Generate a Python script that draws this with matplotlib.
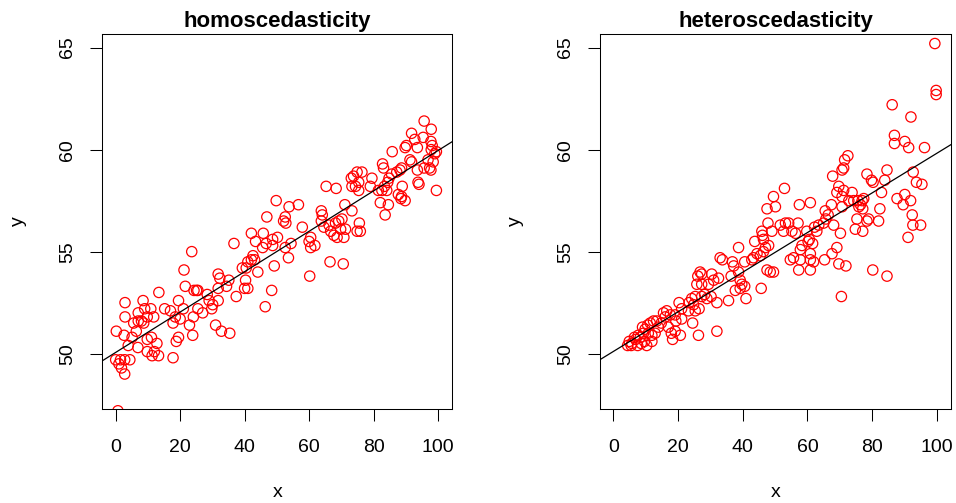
import numpy as np
import matplotlib
matplotlib.use("Agg")
import matplotlib.pyplot as plt

plt.rcParams['font.family'] = ['Liberation Sans', 'DejaVu Sans']

# homoscedastic sample
homo_x = [13.4, 2.9, 8.5, 2.9, 7.0, 9.0, 10.9, 15.2, 17.0, 11.8, 9.8, 17.8, 5.6, 8.0, 7.0,
          8.7, 0.2, 2.6, 6.4, 5.1, 11.1, 9.8, 12.8, 3.9, 6.9, 9.8, 11.3, 13.3, 12.0, 17.8,
          0.0, 1.5, 2.8, 4.4, 1.0, 1.8, 2.8, 0.7, 18.8, 19.5, 19.5, 18.5,
          36.7, 23.6, 21.2, 21.6, 24.3, 25.1, 25.5, 28.4, 31.8, 32.3, 35.1, 34.4, 31.8, 37.4,
          29.0, 30.1, 29.8, 31.8, 21.0, 25.5, 27.0, 24.1, 22.9, 20.0, 31.0, 32.8, 35.4, 23.9,
          49.8, 53.8, 56.7, 46.9, 52.6, 52.1, 52.8, 57.9, 42.1, 45.8, 50.2, 48.7, 43.4, 46.7,
          45.6, 48.7, 54.4, 52.6, 60.5, 60.0, 60.5, 61.8, 42.6, 42.1, 43.1, 41.0, 40.5, 39.3,
          44.1, 49.2, 53.6, 40.3, 40.0, 41.0, 48.4, 60.2, 46.4,
          65.3, 68.4, 73.8, 74.9, 76.4, 73.1, 75.4, 74.4, 73.3, 75.4, 79.5, 79.0, 81.5, 63.8,
          64.1, 63.8, 71.1, 73.3, 70.2, 69.2, 68.2, 66.2, 64.6, 66.7, 69.8, 71.3, 67.7, 68.7,
          70.8, 75.6, 75.9, 74.9, 82.1, 66.5, 70.6,
          95.7, 97.9, 91.8, 92.8, 95.4, 90.2, 89.8, 93.6, 97.8, 98.2, 97.9, 99.5, 99.0, 85.8,
          91.3, 91.8, 96.9, 98.5, 97.4, 97.8, 95.7, 93.6, 82.8, 83.1, 88.7, 88.2, 87.2, 85.6,
          84.8, 84.4, 83.4, 84.1, 82.6, 88.9, 93.8, 94.1, 87.7, 88.7, 89.8, 88.5, 99.5, 84.6, 83.6]
homo_y = [53.0, 52.5, 52.6, 51.8, 52.0, 52.2, 52.2, 52.2, 52.1, 51.8, 51.8, 51.5, 51.5, 51.6, 51.6,
          51.5, 51.1, 50.9, 51.1, 50.8, 50.8, 50.7, 50.5, 50.4, 50.3, 50.1, 49.9, 49.9, 50.1, 49.8,
          49.7, 49.7, 49.7, 49.7, 49.5, 49.3, 49.0, 47.2, 50.6, 50.8, 52.6, 51.8,
          55.4, 55.0, 54.1, 53.3, 53.1, 53.1, 53.1, 52.9, 53.9, 53.7, 53.6, 53.3, 53.2, 52.8,
          52.6, 52.4, 52.2, 52.6, 52.2, 52.2, 52.0, 51.8, 51.4, 51.7, 51.4, 51.1, 51.0, 50.9,
          57.5, 57.2, 57.3, 56.7, 56.7, 56.5, 56.4, 56.2, 55.9, 55.9, 55.7, 55.6, 55.5, 55.4,
          55.2, 55.3, 55.4, 55.2, 55.7, 55.5, 55.2, 55.3, 54.8, 54.6, 54.6, 54.5, 54.2, 54.2,
          54.0, 54.3, 54.7, 53.6, 53.2, 53.2, 53.1, 53.8, 52.3,
          58.2, 58.1, 58.7, 58.9, 58.9, 58.6, 58.4, 58.2, 58.2, 58.0, 58.6, 58.2, 58.0, 57.0,
          56.8, 56.5, 57.3, 57.0, 56.6, 56.5, 56.4, 56.3, 56.2, 56.0, 56.1, 56.1, 55.8, 55.7,
          55.7, 56.4, 56.0, 56.0, 57.4, 54.5, 54.4,
          61.4, 61.0, 60.8, 60.5, 60.6, 60.2, 60.1, 60.1, 60.4, 60.2, 60.0, 59.9, 59.8, 59.9,
          59.5, 59.4, 59.5, 59.4, 59.1, 59.0, 59.1, 59.0, 59.3, 59.1, 59.1, 59.0, 58.9, 58.8,
          58.6, 58.4, 58.2, 58.0, 58.0, 58.2, 58.4, 58.3, 57.8, 57.7, 57.5, 57.6, 58.0, 57.3, 56.8]

# heteroscedastic sample
hetero_x = [4.9, 5.7, 4.4, 6.9, 7.5, 8.6, 8.3, 9.3, 9.8, 9.0, 10.6, 11.4, 12.4, 10.8, 11.9,
            12.9, 13.9, 14.8, 15.5, 16.5, 16.0, 17.6, 17.0, 17.9, 18.3, 19.3, 9.6, 10.3, 11.9,
            7.7, 6.5, 5.5, 19.1, 13.4,
            38.7, 33.0, 33.7, 36.8, 37.2, 40.6, 26.8, 27.3, 26.1, 30.4, 32.5, 31.0, 25.8, 27.3,
            29.4, 36.4, 38.7, 39.2, 39.7, 40.6, 39.2, 37.7, 41.0, 35.6, 25.3, 24.2, 23.4, 24.8,
            28.2, 27.3, 28.9, 30.2, 32.0, 26.5, 25.3, 23.2, 21.1, 20.3, 21.1, 24.5, 19.1, 20.7,
            26.3, 32.0,
            52.9, 49.5, 50.1, 47.5, 57.5, 60.9, 47.8, 51.6, 53.2, 54.2, 57.1, 52.6, 55.2, 56.3,
            45.9, 46.1, 49.0, 46.4, 43.7, 59.8, 60.6, 60.2, 61.6, 58.3, 57.8, 60.9, 48.0, 47.0,
            46.4, 44.4, 43.3, 42.8, 45.4, 54.7, 55.7, 57.8, 60.9, 61.9, 57.3, 60.9, 47.5, 48.5,
            49.5, 45.7,
            72.5, 71.5, 71.2, 70.7, 67.8, 78.4, 79.8, 80.3, 83.9, 84.6, 82.9, 69.7, 69.1, 71.2,
            73.8, 70.7, 72.8, 74.3, 76.9, 77.4, 76.4, 75.9, 77.1, 75.6, 67.4, 70.7, 65.5, 66.4,
            65.7, 65.0, 63.5, 68.1, 62.2, 62.9, 82.4, 82.0, 78.9, 78.4, 75.3, 74.8, 77.1, 70.2,
            69.1, 67.6, 65.3, 69.7, 71.9, 80.2, 84.6, 70.5,
            99.4, 99.8, 99.8, 86.2, 92.0, 86.9, 86.9, 90.1, 91.3, 96.2, 92.7, 93.7, 95.4, 87.7,
            90.1, 91.9, 89.6, 92.4, 92.6, 95.0, 91.1]
hetero_y = [50.6, 50.5, 50.4, 50.7, 50.4, 50.5, 50.8, 51.0, 51.2, 51.3, 51.4, 51.5, 51.6, 51.0, 50.9,
            51.0, 51.3, 51.5, 52.0, 52.1, 51.8, 51.9, 51.3, 51.0, 50.7, 51.6, 50.6, 50.4, 50.6,
            50.9, 50.8, 50.4, 51.9, 51.6,
            55.2, 54.7, 54.6, 54.5, 54.3, 54.5, 54.0, 53.9, 53.8, 53.9, 53.7, 53.6, 53.4, 53.4,
            53.4, 53.8, 54.0, 53.6, 53.4, 53.3, 53.2, 53.1, 52.7, 52.6, 52.8, 52.7, 52.5, 52.4,
            52.9, 52.8, 52.7, 52.8, 52.5, 52.2, 52.1, 52.1, 52.2, 52.5, 51.7, 51.5, 51.1, 50.9,
            50.9, 51.1,
            58.1, 57.7, 57.2, 57.1, 57.3, 57.4, 56.4, 56.3, 56.4, 56.4, 56.4, 56.0, 56.0, 55.9,
            56.0, 55.8, 56.0, 55.6, 55.5, 56.0, 55.6, 55.5, 55.4, 55.3, 55.1, 54.9, 55.3, 55.2,
            55.0, 54.9, 54.7, 54.6, 54.8, 54.6, 54.7, 54.6, 54.6, 54.5, 54.1, 54.1, 54.1, 54.0,
            54.0, 53.2,
            59.7, 59.5, 59.1, 59.0, 58.7, 58.8, 58.5, 58.4, 58.5, 59.0, 57.9, 58.2, 57.9, 58.0,
            57.9, 57.7, 57.5, 57.5, 57.5, 57.6, 57.3, 57.2, 57.1, 57.5, 57.3, 57.2, 57.0, 56.8,
            56.6, 56.4, 56.3, 56.3, 56.2, 56.0, 57.1, 56.5, 56.6, 56.5, 56.6, 56.1, 56.0, 55.9,
            55.2, 54.9, 54.6, 54.4, 54.3, 54.1, 53.8, 52.8,
            65.2, 62.9, 62.7, 62.2, 61.6, 60.7, 60.3, 60.4, 60.1, 60.1, 58.9, 58.4, 58.3, 57.6,
            57.8, 57.5, 57.3, 56.8, 56.3, 56.3, 55.7]

x_ticks = [0, 20, 40, 60, 80, 100]
y_ticks = [50, 55, 60, 65]
titles = ['homoscedasticity', 'heteroscedasticity']

fig = plt.figure(figsize=(9.56, 5.03), dpi=100)
ax1 = fig.add_axes([0.107, 0.187, 0.366, 0.7455])
ax2 = fig.add_axes([0.6276, 0.187, 0.3672, 0.7455])

for ax, xs, ys, title in [(ax1, homo_x, homo_y, titles[0]), (ax2, hetero_x, hetero_y, titles[1])]:
    xs = np.array(xs)
    ys = np.array(ys)
    ax.scatter(xs, ys, s=55, facecolors='none', edgecolors='red', linewidths=0.9, zorder=2)

    # least squares line, like abline(lm(y ~ x))
    slope, intercept = np.polyfit(xs, ys, 1)
    ax.axline((0, intercept), slope=slope, color='black', lw=0.9, zorder=3)

    ax.set_xlim(-4.15, 104.4)
    ax.set_ylim(47.29, 65.67)
    ax.set_xticks(x_ticks)
    ax.set_yticks(y_ticks)
    ax.tick_params(direction='out', length=8.6, width=0.75, labelsize=14, colors='black')
    ax.tick_params(axis='x', pad=13)
    ax.tick_params(axis='y', pad=10)
    plt.setp(ax.get_yticklabels(), rotation=90, va='center')
    for sp in ax.spines.values():
        sp.set_linewidth(0.75)

    ax.set_title(title, fontsize=16, fontweight='bold', pad=5)
    ax.set_xlabel('x', fontsize=14, va='center')
    ax.xaxis.set_label_coords(0.5, -0.222)
    ax.set_ylabel('y', fontsize=14, va='center')
    ax.yaxis.set_label_coords(-0.24, 0.5)

fig.savefig('out.png', dpi=100)
